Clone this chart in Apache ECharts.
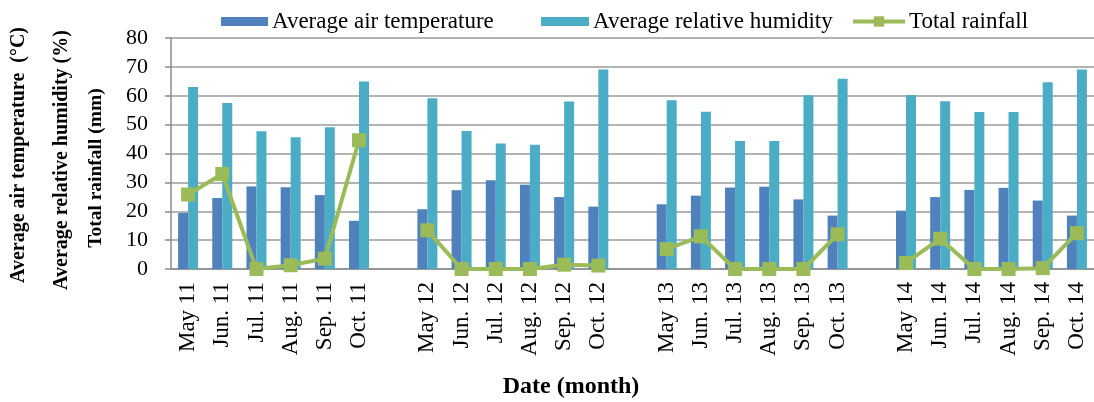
<!DOCTYPE html>
<html>
<head>
<meta charset="utf-8">
<script src="https://cdn.jsdelivr.net/npm/echarts@6/dist/echarts.min.js"></script>
<style>html,body{margin:0;padding:0;background:#fff}#c{width:1094px;height:402px}</style>
</head>
<body>
<div id="c"></div>
<script>
const categories = ['May 11','Jun. 11','Jul. 11','Aug. 11','Sep. 11','Oct. 11','',
  'May 12','Jun. 12','Jul. 12','Aug. 12','Sep. 12','Oct. 12','',
  'May 13','Jun. 13','Jul. 13','Aug. 13','Sep. 13','Oct. 13','',
  'May 14','Jun. 14','Jul. 14','Aug. 14','Sep. 14','Oct. 14'];
const airTemperature = [19.4,24.6,28.6,28.3,25.6,16.7,null,
  20.7,27.3,30.7,29.2,24.9,21.6,null,
  22.4,25.4,28.2,28.5,24.1,18.5,null,
  20.2,24.9,27.4,28.1,23.7,18.5];
const relativeHumidity = [63.0,57.5,47.7,45.6,49.1,64.9,null,
  59.1,47.8,43.5,43.0,58.0,69.1,null,
  58.4,54.5,44.3,44.3,60.2,65.9,null,
  60.3,58.1,54.4,54.4,64.7,69.1];
const totalRainfall = [25.8,32.9,0,1.3,3.6,44.6,null,
  13.4,0,0,0,1.5,1.2,null,
  6.9,11.3,0,0,0,12.0,null,
  2.1,10.5,0,0,0.3,12.4];
const yTicks = [0,10,20,30,40,50,60,70,80];

const serif = '"Liberation Serif", "DejaVu Serif", serif';
const chart = echarts.init(document.getElementById('c'));
const legendText = {fontFamily: serif, fontSize: 23, color: '#000', padding: [0, 0, 0, -1]};
chart.setOption({
  animation: false,
  grid: {left: 171, right: 0, top: 38, bottom: 133, containLabel: false},
  legend: [
    {data: ['Average air temperature'], left: 216, top: 5, itemWidth: 47, itemHeight: 9, itemGap: 0, textStyle: legendText, icon: 'rect'},
    {data: ['Average relative humidity'], left: 536, top: 5, itemWidth: 48, itemHeight: 9, itemGap: 0, textStyle: legendText, icon: 'rect'},
    {data: ['Total rainfall'], left: 846, top: 5, itemWidth: 52, itemHeight: 13, itemGap: 0, textStyle: legendText,
      lineStyle: {width: 4}}
  ],
  xAxis: {
    type: 'category',
    data: categories,
    boundaryGap: true,
    axisLine: {lineStyle: {color: '#8c8c8c', width: 1.5}},
    axisTick: {show: false},
    axisLabel: {rotate: 90, interval: 0, margin: 13, fontFamily: serif, fontSize: 23, color: '#000'}
  },
  yAxis: {
    type: 'value',
    min: yTicks[0],
    max: yTicks[yTicks.length - 1],
    interval: 10,
    axisLine: {show: true, lineStyle: {color: '#8c8c8c', width: 1.5}},
    axisTick: {show: true, length: 6, lineStyle: {color: '#8c8c8c', width: 1.5}},
    splitLine: {lineStyle: {color: '#9a9a9a', width: 1.5}},
    axisLabel: {margin: 23, fontFamily: serif, fontSize: 22, color: '#000'}
  },
  graphic: [
    {type: 'text', x: 19, y: 155, rotation: Math.PI / 2, style: {text: 'Average air temperature  (°C)', font: 'bold 20px ' + serif, fill: '#000', textAlign: 'center', textVerticalAlign: 'middle'}},
    {type: 'text', x: 62, y: 160, rotation: Math.PI / 2, style: {text: 'Average relative humidity (%)', font: 'bold 20px ' + serif, fill: '#000', textAlign: 'center', textVerticalAlign: 'middle'}},
    {type: 'text', x: 96, y: 168, rotation: Math.PI / 2, style: {text: 'Total rainfall (mm)', font: 'bold 19.5px ' + serif, fill: '#000', textAlign: 'center', textVerticalAlign: 'middle'}},
    {type: 'text', x: 571, y: 387, style: {text: 'Date (month)', font: 'bold 24px ' + serif, fill: '#000', textAlign: 'center', textVerticalAlign: 'middle'}}
  ],
  series: [
    {name: 'Average air temperature', type: 'bar', data: airTemperature, barWidth: 10, barGap: '0%', itemStyle: {color: '#4f81bd'}},
    {name: 'Average relative humidity', type: 'bar', data: relativeHumidity, barWidth: 10, barGap: '0%', itemStyle: {color: '#4bacc6'}},
    {name: 'Total rainfall', type: 'line', data: totalRainfall, connectNulls: false, symbol: 'rect', symbolSize: 14, z: 5,
      lineStyle: {color: '#9bbb59', width: 4}, itemStyle: {color: '#9bbb59'}}
  ]
});
</script>
</body>
</html>
